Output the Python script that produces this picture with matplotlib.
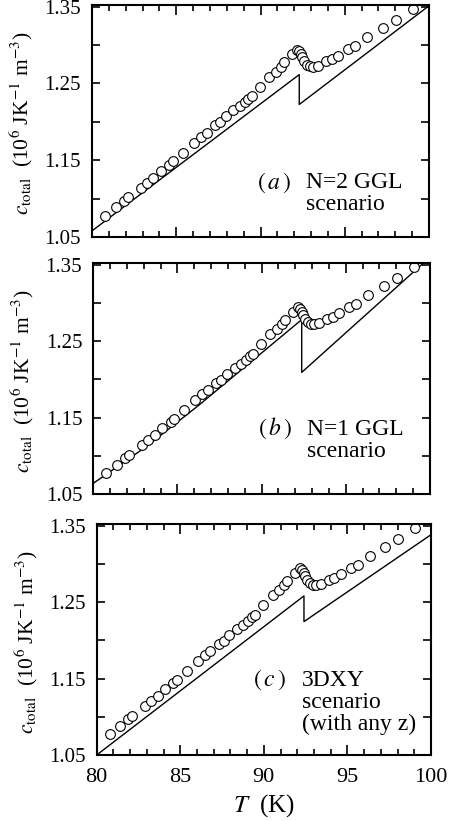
import matplotlib
matplotlib.use('Agg')
import matplotlib.pyplot as plt
from matplotlib.ticker import MultipleLocator, FixedLocator, NullFormatter

plt.rcParams['font.family'] = ['Liberation Serif', 'DejaVu Serif']
plt.rcParams['mathtext.fontset'] = 'stix'

# measured total specific heat (same data in every panel)
T_data = [80.77, 81.40, 81.90, 82.12, 82.89, 83.25, 83.64, 84.10, 84.59,
          84.79, 85.38, 86.07, 86.47, 86.80, 87.30, 87.60, 87.93, 88.39,
          88.78, 89.08, 89.28, 89.48, 89.97, 90.52, 90.92, 91.20, 91.39,
          91.85, 92.15, 92.30, 92.38, 92.44, 92.58, 92.74, 92.94, 93.13,
          93.43, 93.89, 94.22, 94.62, 95.21, 95.61, 96.34, 97.25, 98.04,
          99.07]
c_data = [1.0772, 1.0885, 1.0971, 1.1015, 1.1144, 1.1205, 1.1274, 1.1360,
          1.1443, 1.1486, 1.1598, 1.1723, 1.1801, 1.1858, 1.1953, 1.1996,
          1.2074, 1.2147, 1.2199, 1.2255, 1.2299, 1.2333, 1.2458, 1.2588,
          1.2653, 1.2718, 1.2774, 1.2883, 1.2939, 1.2925, 1.2883, 1.2839,
          1.2787, 1.2744, 1.2722, 1.2718, 1.2731, 1.2787, 1.2817, 1.2860,
          1.2947, 1.2990, 1.3098, 1.3215, 1.3327, 1.3466]

# model curves
T_a = [80.0, 92.30, 92.30, 100.0]
c_a = [1.058, 1.2614, 1.2225, 1.351]
T_b = [80.0, 83.17, 86.24, 89.31, 92.38, 92.38, 99.51, 99.8]
c_b = [1.064, 1.1123, 1.1656, 1.2218, 1.278, 1.209, 1.350, 1.356]
T_c = [80.0, 92.40, 92.40, 100.0]
c_c = [1.050, 1.258, 1.2244, 1.338]

LINES = [(T_a, c_a), (T_b, c_b), (T_c, c_c)]
TAGS = [r'$(\,a\,)$', r'$(\,b\,)$', r'$(\,c\,)$']
NOTES = [['N=2 GGL', 'scenario'],
         ['N=1 GGL', 'scenario'],
         ['3DXY', 'scenario', '(with any z)']]

W, H = 461, 821
# axes boxes in pixels: left, top, right, bottom
BOXES = [(92, 5, 429, 237), (93.3, 263, 430, 494), (96.7, 524, 431, 755)]
# text anchor in axes fraction: tag right edge, note left edge, first baseline
TEXT_POS = [(0.59, 0.635, 0.21), (0.59, 0.635, 0.255), (0.565, 0.615, 0.30)]

fig = plt.figure(figsize=(W / 100, H / 100), dpi=100)

axes = []
for i, (l, t, r, b) in enumerate(BOXES):
    ax = fig.add_axes([l / W, 1 - b / H, (r - l) / W, (b - t) / H])
    axes.append(ax)
    T_line, c_line = LINES[i]
    ax.plot(T_line, c_line, color='black', lw=1.0)
    ax.plot(T_data, c_data, linestyle='none', marker='o', ms=7,
            mfc='white', mec='black', mew=0.8)

    ax.set_xlim(80, 100)
    ax.set_ylim(1.05, 1.352)
    ax.xaxis.set_major_locator(MultipleLocator(5))
    ax.xaxis.set_minor_locator(MultipleLocator(1))
    ax.yaxis.set_major_locator(FixedLocator([1.05, 1.15, 1.25, 1.35]))
    ax.yaxis.set_minor_locator(FixedLocator([1.10, 1.20, 1.30]))
    ax.yaxis.set_major_formatter(plt.FuncFormatter(lambda v, p: '%.2f' % v))
    ax.tick_params(which='both', direction='in', top=True, right=True,
                   width=1.2)
    ax.tick_params(axis='x', which='major', length=7, labelsize=16, pad=9)
    ax.tick_params(axis='x', which='minor', length=4)
    ax.tick_params(axis='y', which='both', length=6, labelsize=15, pad=8)
    for sp in ax.spines.values():
        sp.set_linewidth(1.5)
    if i < 2:
        ax.xaxis.set_major_formatter(NullFormatter())

    ax.set_ylabel(r'$c_{\rm total}$  (10$^6$ JK$^{-1}$ m$^{-3}$)',
                  fontsize=15.5)
    ax.yaxis.set_label_coords(-0.17, 0.49)

    tx, nx, by = TEXT_POS[i]
    ax.text(tx, by, TAGS[i], transform=ax.transAxes, fontsize=17,
            ha='right', va='baseline')
    for k, line in enumerate(NOTES[i]):
        ax.text(nx, by - k * 0.095, line, transform=ax.transAxes,
                fontsize=17, ha='left', va='baseline')

axes[2].set_xlabel(r'$T$  (K)', fontsize=18, labelpad=4)

fig.savefig('out.png', dpi=100)
